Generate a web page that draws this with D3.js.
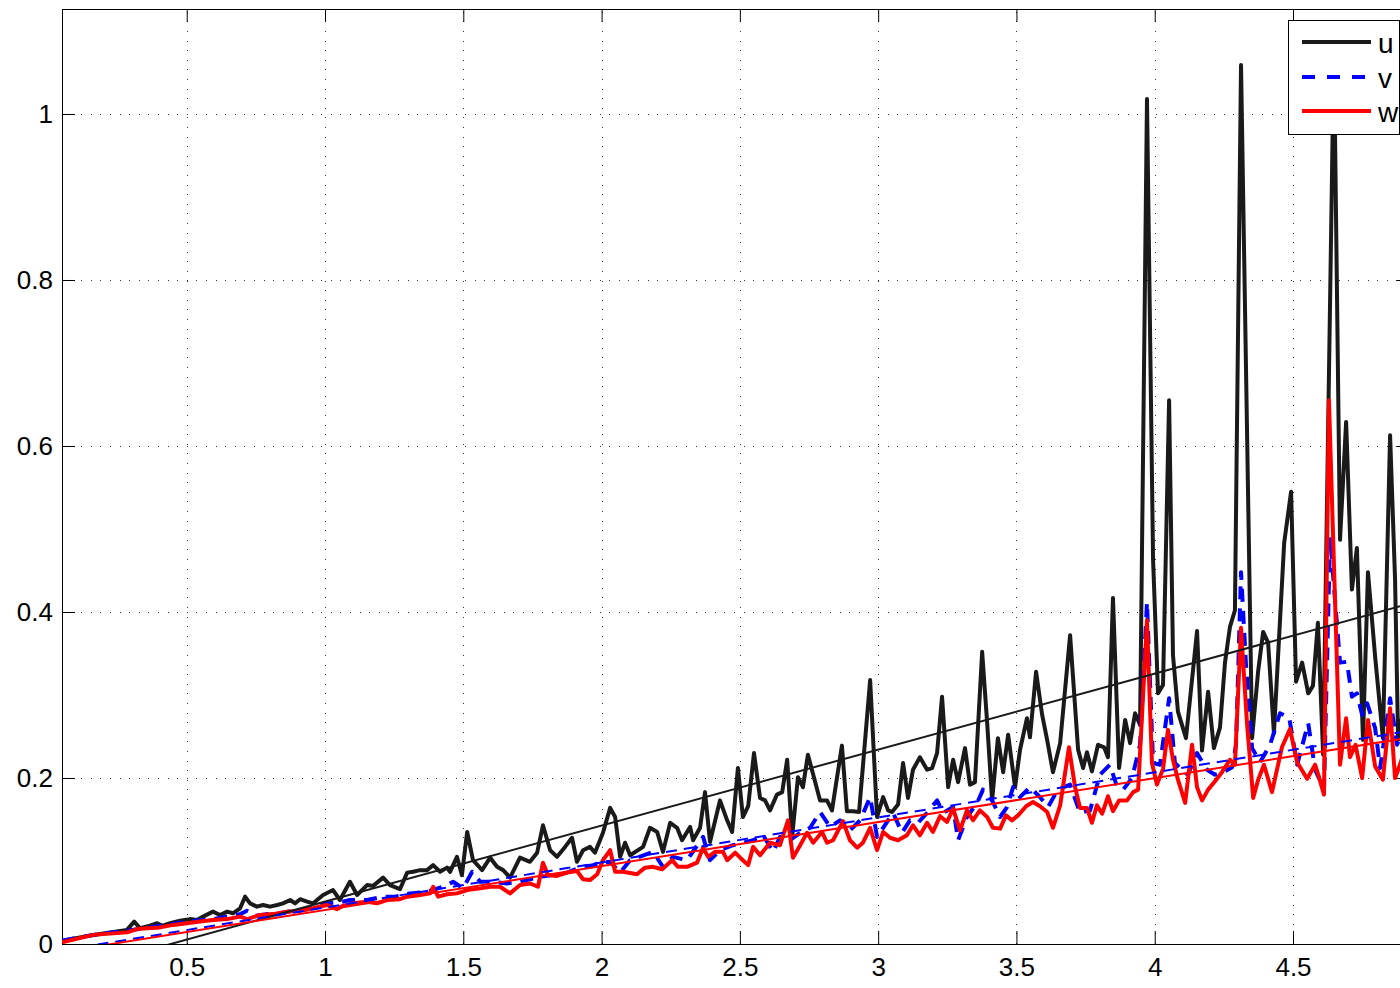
<!DOCTYPE html>
<html><head><meta charset="utf-8">
<script src="https://cdn.jsdelivr.net/npm/d3@7"></script>
<style>html,body{margin:0;padding:0;background:#fff;}svg{display:block;font-family:"Liberation Sans",Arial,Helvetica,sans-serif;}</style>
</head><body>
<svg id="chart" width="1400" height="988"></svg>
<script>
const xTickValues = [0.5, 1, 1.5, 2, 2.5, 3, 3.5, 4, 4.5];
const xTickLabels = ["0.5", "1", "1.5", "2", "2.5", "3", "3.5", "4", "4.5"];
const yTickValues = [0, 0.2, 0.4, 0.6, 0.8, 1];
const yTickLabels = ["0", "0.2", "0.4", "0.6", "0.8", "1"];
const seriesNames = ["u", "v", "w"];

const uPoints = [[0.049,0.004],[0.114,0.008],[0.187,0.012],[0.284,0.017],[0.310,0.027],[0.331,0.019],[0.367,0.022],[0.393,0.025],[0.414,0.022],[0.440,0.025],[0.476,0.028],[0.512,0.030],[0.537,0.029],[0.559,0.033],[0.595,0.039],[0.620,0.035],[0.646,0.039],[0.667,0.037],[0.693,0.043],[0.711,0.057],[0.729,0.049],[0.754,0.045],[0.776,0.047],[0.801,0.045],[0.827,0.047],[0.848,0.049],[0.874,0.053],[0.892,0.049],[0.910,0.054],[0.935,0.051],[0.957,0.049],[0.993,0.059],[1.029,0.065],[1.054,0.053],[1.090,0.075],[1.116,0.059],[1.152,0.071],[1.174,0.070],[1.210,0.080],[1.235,0.071],[1.271,0.066],[1.297,0.086],[1.318,0.087],[1.344,0.089],[1.369,0.089],[1.391,0.095],[1.416,0.087],[1.441,0.092],[1.452,0.087],[1.477,0.105],[1.495,0.083],[1.514,0.135],[1.535,0.101],[1.568,0.089],[1.597,0.104],[1.622,0.093],[1.644,0.089],[1.669,0.080],[1.705,0.104],[1.741,0.099],[1.767,0.110],[1.788,0.143],[1.814,0.113],[1.839,0.105],[1.868,0.117],[1.893,0.128],[1.911,0.099],[1.933,0.113],[1.958,0.117],[1.976,0.110],[2.005,0.134],[2.031,0.164],[2.049,0.153],[2.067,0.105],[2.085,0.122],[2.103,0.107],[2.150,0.117],[2.175,0.140],[2.201,0.135],[2.222,0.111],[2.248,0.146],[2.273,0.140],[2.291,0.125],[2.320,0.141],[2.331,0.125],[2.356,0.140],[2.374,0.183],[2.392,0.123],[2.428,0.173],[2.454,0.149],[2.472,0.135],[2.493,0.212],[2.511,0.153],[2.530,0.166],[2.551,0.230],[2.573,0.176],[2.591,0.173],[2.609,0.161],[2.634,0.180],[2.653,0.183],[2.671,0.222],[2.689,0.129],[2.710,0.201],[2.728,0.189],[2.746,0.228],[2.790,0.173],[2.815,0.173],[2.833,0.161],[2.869,0.239],[2.887,0.160],[2.909,0.160],[2.931,0.159],[2.971,0.318],[2.996,0.153],[3.018,0.177],[3.036,0.161],[3.050,0.159],[3.072,0.168],[3.090,0.218],[3.108,0.176],[3.126,0.210],[3.151,0.225],[3.177,0.210],[3.195,0.212],[3.213,0.230],[3.231,0.298],[3.253,0.189],[3.271,0.222],[3.289,0.195],[3.314,0.236],[3.332,0.192],[3.350,0.195],[3.376,0.352],[3.394,0.267],[3.412,0.173],[3.433,0.248],[3.452,0.207],[3.470,0.252],[3.495,0.189],[3.513,0.234],[3.538,0.272],[3.549,0.249],[3.571,0.328],[3.593,0.276],[3.611,0.246],[3.632,0.207],[3.658,0.242],[3.694,0.372],[3.723,0.234],[3.741,0.212],[3.755,0.231],[3.773,0.208],[3.795,0.240],[3.817,0.237],[3.831,0.225],[3.849,0.417],[3.871,0.212],[3.893,0.270],[3.911,0.242],[3.929,0.278],[3.947,0.264],[3.972,1.018],[3.994,0.463],[4.012,0.302],[4.030,0.312],[4.052,0.655],[4.066,0.348],[4.084,0.280],[4.113,0.248],[4.153,0.377],[4.171,0.233],[4.193,0.304],[4.214,0.236],[4.236,0.261],[4.254,0.339],[4.272,0.382],[4.290,0.402],[4.312,1.059],[4.352,0.248],[4.374,0.329],[4.392,0.376],[4.410,0.363],[4.431,0.254],[4.468,0.483],[4.493,0.545],[4.511,0.316],[4.533,0.339],[4.555,0.302],[4.572,0.311],[4.590,0.387],[4.609,0.228],[4.648,1.080],[4.670,0.487],[4.692,0.629],[4.713,0.427],[4.731,0.477],[4.753,0.246],[4.771,0.448],[4.797,0.346],[4.825,0.248],[4.851,0.613],[4.869,0.439],[4.880,0.246],[4.905,0.294]];

const vPoints = [[0.049,0.004],[0.161,0.011],[0.284,0.016],[0.404,0.022],[0.501,0.027],[0.595,0.030],[0.693,0.036],[0.718,0.040],[0.747,0.034],[0.790,0.036],[0.837,0.037],[0.884,0.040],[0.928,0.041],[0.957,0.045],[1.007,0.049],[1.065,0.051],[1.090,0.053],[1.152,0.053],[1.210,0.057],[1.253,0.057],[1.307,0.061],[1.369,0.063],[1.427,0.069],[1.463,0.075],[1.499,0.067],[1.532,0.087],[1.561,0.075],[1.608,0.075],[1.658,0.073],[1.705,0.075],[1.777,0.081],[1.824,0.083],[1.875,0.086],[1.922,0.092],[1.969,0.095],[1.994,0.098],[2.031,0.099],[2.067,0.086],[2.103,0.101],[2.186,0.111],[2.222,0.093],[2.258,0.105],[2.309,0.101],[2.367,0.129],[2.392,0.101],[2.428,0.113],[2.475,0.119],[2.511,0.122],[2.548,0.125],[2.584,0.131],[2.620,0.111],[2.645,0.129],[2.681,0.125],[2.718,0.134],[2.754,0.140],[2.790,0.159],[2.826,0.141],[2.862,0.149],[2.898,0.137],[2.935,0.149],[2.971,0.177],[2.996,0.129],[3.018,0.140],[3.054,0.158],[3.086,0.134],[3.115,0.149],[3.144,0.146],[3.177,0.158],[3.213,0.173],[3.235,0.158],[3.271,0.165],[3.289,0.125],[3.321,0.153],[3.358,0.170],[3.379,0.186],[3.412,0.173],[3.441,0.153],[3.466,0.165],[3.488,0.189],[3.513,0.177],[3.549,0.189],[3.585,0.177],[3.614,0.165],[3.650,0.186],[3.694,0.192],[3.730,0.158],[3.766,0.161],[3.802,0.204],[3.838,0.216],[3.864,0.189],[3.886,0.186],[3.918,0.200],[3.947,0.240],[3.972,0.412],[3.994,0.218],[4.019,0.216],[4.052,0.296],[4.073,0.218],[4.099,0.210],[4.120,0.204],[4.153,0.230],[4.189,0.210],[4.218,0.204],[4.247,0.207],[4.280,0.213],[4.294,0.240],[4.312,0.448],[4.330,0.336],[4.352,0.236],[4.381,0.219],[4.417,0.240],[4.453,0.278],[4.486,0.273],[4.515,0.216],[4.555,0.266],[4.580,0.210],[4.612,0.186],[4.634,0.490],[4.670,0.339],[4.695,0.340],[4.713,0.298],[4.731,0.302],[4.750,0.276],[4.768,0.290],[4.797,0.260],[4.815,0.212],[4.851,0.296],[4.876,0.240],[4.905,0.264]];

const wPoints = [[0.049,0.002],[0.161,0.011],[0.284,0.014],[0.320,0.018],[0.357,0.019],[0.404,0.020],[0.451,0.023],[0.501,0.025],[0.548,0.027],[0.595,0.029],[0.646,0.030],[0.693,0.033],[0.718,0.030],[0.765,0.035],[0.812,0.036],[0.863,0.039],[0.910,0.040],[0.957,0.043],[1.007,0.047],[1.043,0.042],[1.065,0.046],[1.101,0.049],[1.152,0.051],[1.188,0.049],[1.224,0.053],[1.271,0.054],[1.297,0.057],[1.344,0.059],[1.380,0.061],[1.391,0.069],[1.409,0.057],[1.441,0.060],[1.477,0.061],[1.514,0.065],[1.561,0.067],[1.597,0.069],[1.633,0.069],[1.669,0.061],[1.705,0.071],[1.741,0.073],[1.770,0.069],[1.788,0.098],[1.806,0.083],[1.839,0.082],[1.875,0.086],[1.911,0.088],[1.933,0.078],[1.958,0.077],[1.984,0.084],[2.005,0.101],[2.031,0.113],[2.049,0.087],[2.078,0.087],[2.128,0.084],[2.157,0.092],[2.186,0.093],[2.219,0.090],[2.255,0.101],[2.276,0.093],[2.309,0.093],[2.345,0.098],[2.367,0.116],[2.385,0.105],[2.410,0.111],[2.439,0.111],[2.454,0.101],[2.483,0.110],[2.501,0.104],[2.530,0.095],[2.548,0.117],[2.573,0.107],[2.609,0.122],[2.645,0.119],[2.674,0.149],[2.692,0.104],[2.718,0.119],[2.743,0.134],[2.765,0.122],[2.797,0.135],[2.815,0.122],[2.837,0.125],[2.873,0.148],[2.898,0.125],[2.924,0.116],[2.945,0.122],[2.971,0.140],[2.996,0.113],[3.018,0.135],[3.043,0.128],[3.072,0.125],[3.104,0.131],[3.126,0.143],[3.151,0.131],[3.177,0.146],[3.198,0.135],[3.224,0.154],[3.249,0.147],[3.271,0.163],[3.296,0.137],[3.321,0.161],[3.343,0.149],[3.368,0.161],[3.394,0.153],[3.415,0.140],[3.441,0.139],[3.462,0.155],[3.484,0.149],[3.506,0.155],[3.535,0.166],[3.560,0.171],[3.585,0.166],[3.611,0.159],[3.632,0.140],[3.658,0.167],[3.690,0.237],[3.712,0.189],[3.730,0.164],[3.755,0.164],[3.773,0.146],[3.791,0.167],[3.810,0.157],[3.831,0.178],[3.849,0.160],[3.871,0.173],[3.900,0.173],[3.922,0.183],[3.940,0.186],[3.972,0.390],[3.990,0.218],[4.008,0.192],[4.030,0.211],[4.048,0.258],[4.066,0.222],[4.084,0.198],[4.110,0.170],[4.135,0.240],[4.153,0.189],[4.171,0.173],[4.193,0.186],[4.218,0.196],[4.243,0.207],[4.272,0.222],[4.290,0.216],[4.312,0.381],[4.334,0.264],[4.356,0.176],[4.374,0.198],[4.395,0.216],[4.424,0.183],[4.460,0.237],[4.489,0.259],[4.515,0.219],[4.551,0.199],[4.580,0.216],[4.594,0.201],[4.612,0.180],[4.630,0.655],[4.670,0.216],[4.692,0.272],[4.706,0.225],[4.726,0.240],[4.750,0.200],[4.771,0.270],[4.797,0.214],[4.825,0.198],[4.851,0.284],[4.869,0.200],[4.880,0.210],[4.905,0.234]];

// straight-line fits (endpoints)
const uFit = [[0.30,-0.013],[4.92,0.410]];
const vFit = [[0.049,-0.0077],[4.92,0.2568]];
const wFit = [[0.049,-0.0095],[4.92,0.2486]];

const svg = d3.select("#chart");
const L = 62, R = 1410, T = 9, B = 944;
const x = d3.scaleLinear().domain([0.049, 4.923]).range([L, R]);
const y = d3.scaleLinear().domain([0, 1.1265]).range([B, T]);

svg.append("defs").append("clipPath").attr("id","clip")
  .append("rect").attr("x",L).attr("y",T).attr("width",R-L).attr("height",B-T);

// grid
const grid = svg.append("g").attr("stroke","#333").attr("stroke-width",1).attr("stroke-dasharray","1,8.6").attr("shape-rendering","crispEdges");
grid.selectAll("line.vx").data(xTickValues).join("line")
  .attr("x1",d=>Math.round(x(d))+0.5).attr("x2",d=>Math.round(x(d))+0.5).attr("y1",B).attr("y2",T);
grid.selectAll("line.hy").data(yTickValues).join("line")
  .attr("y1",d=>Math.round(y(d))+0.5).attr("y2",d=>Math.round(y(d))+0.5).attr("x1",L).attr("x2",R);

// axes
const xAxisB = d3.axisBottom(x).tickValues(xTickValues).tickFormat((d,i)=>xTickLabels[i]).tickSizeInner(-13).tickSizeOuter(0).tickPadding(16);
const yAxisL = d3.axisLeft(y).tickValues(yTickValues).tickFormat((d,i)=>yTickLabels[i]).tickSizeInner(-13).tickSizeOuter(0).tickPadding(9);
const gx = svg.append("g").attr("transform",`translate(0,${B})`).call(xAxisB);
const gy = svg.append("g").attr("transform",`translate(${L},0)`).call(yAxisL);
const gxt = svg.append("g").attr("transform",`translate(0,${T})`).call(d3.axisTop(x).tickValues(xTickValues).tickFormat("").tickSizeInner(-13).tickSizeOuter(0));
const gyr = svg.append("g").attr("transform",`translate(${R},0)`).call(d3.axisRight(y).tickValues(yTickValues).tickFormat("").tickSizeInner(-13).tickSizeOuter(0));
[gx,gy,gxt,gyr].forEach(g=>{
  g.select(".domain").remove();
  g.selectAll(".tick line").attr("stroke","#000").attr("stroke-width",1);
  g.selectAll("text").attr("fill","#000").attr("font-size",26).attr("font-family","Liberation Sans, Arial, sans-serif");
});
gx.selectAll("text").attr("dy","0.6em");
svg.append("rect").attr("x",L+0.5).attr("y",T+0.5).attr("width",R-L).attr("height",B-T)
  .attr("fill","none").attr("stroke","#000").attr("stroke-width",1);

// series
const line = d3.line().x(d=>x(d[0])).y(d=>y(d[1]));
const plot = svg.append("g").attr("clip-path","url(#clip)").attr("fill","none").attr("stroke-linejoin","round");
plot.append("path").datum(uPoints).attr("d",line).attr("stroke","#1a1a1a").attr("stroke-width",4);
plot.append("path").datum(vPoints).attr("d",line).attr("stroke","#0000ff").attr("stroke-width",4).attr("stroke-dasharray","13,9");
plot.append("path").datum(wPoints).attr("d",line).attr("stroke","#ff0000").attr("stroke-width",4);
plot.append("path").datum(uFit).attr("d",line).attr("stroke","#1a1a1a").attr("stroke-width",2);
plot.append("path").datum(vFit).attr("d",line).attr("stroke","#0000ff").attr("stroke-width",2).attr("stroke-dasharray","11,7");
plot.append("path").datum(wFit).attr("d",line).attr("stroke","#ff0000").attr("stroke-width",2);

// legend
const lg = svg.append("g");
lg.append("rect").attr("x",1288.5).attr("y",20.5).attr("width",111).attr("height",114).attr("fill","#fff").attr("stroke","#000").attr("stroke-width",1);
const legendStyles = [{c:"#1a1a1a",dash:null},{c:"#0000ff",dash:"13,12"},{c:"#ff0000",dash:null}];
const legendY = [42, 77, 111];
seriesNames.forEach((n,i)=>{
  const ln = lg.append("line").attr("x1",1302).attr("x2",1371).attr("y1",legendY[i]).attr("y2",legendY[i])
    .attr("stroke",legendStyles[i].c).attr("stroke-width",4.2);
  if (legendStyles[i].dash) ln.attr("stroke-dasharray",legendStyles[i].dash);
  lg.append("text").attr("x",1378).attr("y",legendY[i]+11).attr("font-size",28).attr("fill","#000").text(n);
});
</script>
</body></html>
